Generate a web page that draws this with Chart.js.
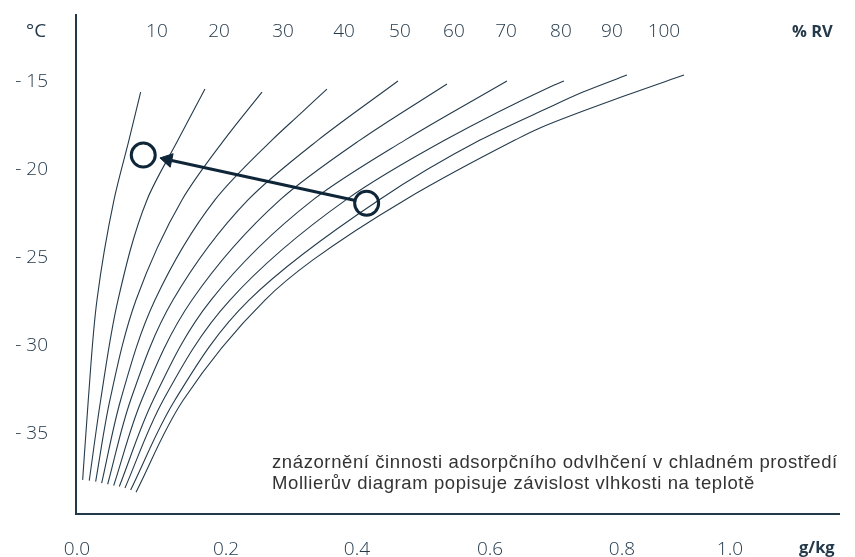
<!DOCTYPE html>
<html>
<head>
<meta charset="utf-8">
<script src="https://cdn.jsdelivr.net/npm/chart.js@4.4.1/dist/chart.umd.min.js"></script>
<style>
  body { margin: 0; background: #fff; }
  #wrap { position: relative; width: 855px; height: 557px; }
  .lbl { position: absolute; color: #24394a; white-space: nowrap; font-family: 'Open Sans', sans-serif; }
  .note { position: absolute; left: 272px; top: 451px; font-family: 'Liberation Sans', Arial, sans-serif;
          font-size: 18.5px; letter-spacing: 0.6px; line-height: 21px; color: #333; white-space: nowrap; }
</style>
</head>
<body>
<div id="wrap">
  <canvas id="chart" width="855" height="557"></canvas>
  <div class="lbl" style="left:26px;top:21px;font-size:19px;line-height:19px;font-weight:400;">°C</div>
  <div class="lbl" style="left:792px;top:22px;font-size:16.5px;line-height:18px;font-weight:700;">% RV</div>
  <div class="lbl" style="left:799px;top:538px;font-size:16.5px;line-height:18px;font-weight:700;">g/kg</div>
  <div class="note">znázornění činnosti adsorpčního odvlhčení v chladném prostředí<br>Mollierův diagram popisuje závislost vlhkosti na teplotě</div>
</div>
<script>
// relative humidity labels along the top and where they sit (g/kg)
const rhLabels = ['10', '20', '30', '40', '50', '60', '70', '80', '90', '100'];
const rhLabelAt = [0.1225, 0.2175, 0.3155, 0.4089, 0.4946, 0.5773, 0.6570, 0.7412, 0.8193, 0.8989];

const xTickLabels = ['0.0', '0.2', '0.4', '0.6', '0.8', '1.0'];
const xTickAt = [0, 0.2282, 0.4288, 0.6325, 0.8346, 1.0];
const yTickValues = [-15, -20, -25, -30, -35];

// curves of constant RH: [humidity g/kg, temperature °C]
const rh10 = [[0.0087, -37.61], [0.0173, -33.07], [0.0306, -27.39], [0.0567, -21.70], [0.0796, -18.30], [0.0975, -15.57]];
const rh20 = [[0.0188, -37.65], [0.0363, -33.07], [0.0628, -27.39], [0.1072, -21.70], [0.1547, -18.30], [0.1960, -15.40]];
const rh30 = [[0.0286, -37.71], [0.0505, -33.07], [0.0904, -27.39], [0.1608, -21.70], [0.2251, -18.30], [0.2833, -15.57]];
const rh40 = [[0.0378, -37.80], [0.0669, -33.07], [0.1194, -27.39], [0.2113, -21.70], [0.2986, -18.30], [0.3415, -16.82], [0.3828, -15.40]];
const rh50 = [[0.0470, -37.86], [0.0822, -33.07], [0.1470, -27.39], [0.2619, -21.70], [0.3691, -18.30], [0.4916, -14.94]];
const rh60 = [[0.0562, -37.94], [0.0991, -33.07], [0.1761, -27.39], [0.3109, -21.70], [0.4334, -18.30], [0.5666, -15.11]];
const rh70 = [[0.0648, -37.99], [0.1168, -33.07], [0.2052, -27.39], [0.3614, -21.70], [0.5023, -18.30], [0.6585, -14.94]];
const rh80 = [[0.0735, -38.07], [0.1322, -33.07], [0.2343, -27.39], [0.4119, -21.70], [0.5636, -18.30], [0.7243, -15.28], [0.7458, -14.94]];
const rh90 = [[0.0822, -38.18], [0.1501, -33.07], [0.2634, -27.39], [0.4625, -21.70], [0.6172, -18.30], [0.7243, -16.42], [0.7749, -15.57], [0.8423, -14.60]];
const rh100 = [[0.0904, -38.31], [0.1628, -33.07], [0.2879, -27.39], [0.3614, -25.11], [0.5023, -21.70], [0.6708, -18.30], [0.7090, -17.61], [0.8423, -15.74], [0.9296, -14.60]];
const curves = [rh10, rh20, rh30, rh40, rh50, rh60, rh70, rh80, rh90, rh100];

// state before / after drying, and the arrow between them
const markers = [[0.1015, -19.15], [0.4436, -21.89]];
const arrowLine = [[0.4247, -21.72], [0.1450, -19.46]];
const arrowHead = [[0.1390, -19.41]];

const ink = '#0f2638';
const lineCol = '#243b4c';
const tickFont = { family: "'Open Sans', sans-serif", size: 19, weight: 300 };

const toPts = arr => arr.map(p => ({ x: p[0], y: p[1] }));
const noPad = s => { s.paddingTop = 0; s.paddingBottom = 0; s.paddingLeft = 0; s.paddingRight = 0; };

const datasets = [
  {
    data: toPts(markers), showLine: false,
    pointRadius: 12, pointHoverRadius: 12, pointBorderWidth: 3,
    pointBorderColor: ink, pointBackgroundColor: 'rgba(255,255,255,0)'
  },
  {
    data: toPts(arrowHead), showLine: false, pointStyle: 'triangle',
    pointRadius: 8, rotation: -77.8, pointBorderWidth: 1,
    pointBorderColor: ink, pointBackgroundColor: ink
  },
  {
    data: toPts(arrowLine), showLine: true, borderColor: ink, borderWidth: 3, pointRadius: 0
  }
];
curves.forEach(c => {
  datasets.push({
    data: toPts(c), showLine: true, borderColor: lineCol, borderWidth: 1.1,
    pointRadius: 0, cubicInterpolationMode: 'monotone'
  });
});

new Chart(document.getElementById('chart'), {
  type: 'scatter',
  data: { datasets },
  options: {
    indexAxis: 'y',
    responsive: false,
    animation: false,
    layout: { padding: { left: 0, right: 16, top: 0, bottom: 0 } },
    plugins: { legend: { display: false }, tooltip: { enabled: false } },
    scales: {
      x: {
        type: 'linear', position: 'bottom', min: -0.0015, max: 1.167,
        grid: { display: false, drawTicks: false },
        border: { display: true, color: '#22394a', width: 2 },
        afterBuildTicks: s => { s.ticks = xTickAt.map(v => ({ value: v })); },
        afterFit: s => { s.height = 43; noPad(s); },
        ticks: {
          padding: 24, color: '#24394a', font: tickFont, maxRotation: 0, autoSkip: false,
          callback: (v, i) => xTickLabels[i]
        }
      },
      x2: {
        type: 'linear', position: 'top', min: -0.0015, max: 1.167,
        grid: { display: false, drawTicks: false },
        border: { display: false },
        afterBuildTicks: s => { s.ticks = rhLabelAt.map(v => ({ value: v })); },
        afterFit: s => { s.height = 15; noPad(s); },
        ticks: {
          mirror: true, padding: 5, color: '#24394a', font: tickFont, maxRotation: 0, autoSkip: false,
          callback: (v, i) => rhLabels[i]
        }
      },
      y: {
        type: 'linear', position: 'left', min: -39.55, max: -11.19,
        grid: { display: false, drawTicks: false },
        border: { display: true, color: '#22394a', width: 2 },
        afterBuildTicks: s => { s.ticks = yTickValues.map(v => ({ value: v })); },
        afterFit: s => { s.width = 76; noPad(s); },
        ticks: {
          padding: 28, color: '#24394a', font: tickFont,
          callback: v => '- ' + Math.abs(v)
        }
      }
    }
  }
});
</script>
</body>
</html>
